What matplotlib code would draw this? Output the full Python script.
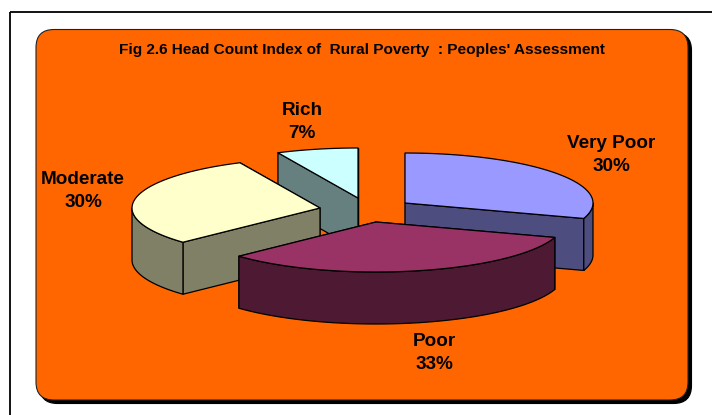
import numpy as np
import matplotlib
matplotlib.use("Agg")
import matplotlib.pyplot as plt
from matplotlib.patches import FancyBboxPatch, Polygon, Rectangle

plt.rcParams["font.family"] = ["Liberation Sans", "DejaVu Sans"]

# Survey shares
categories = ["Very Poor", "Poor", "Moderate", "Rich"]
shares = [30, 33, 30, 7]
title = "Fig 2.6 Head Count Index of  Rural Poverty  : Peoples' Assessment"

# Styling per slice: top colour, side colour, exploded apex position, label centre
top_colors = ["#9999FF", "#993366", "#FFFFCC", "#CCFFFF"]
side_colors = ["#4D4D80", "#4D1933", "#808066", "#668080"]
apexes = [(405, 203), (376, 222), (320, 208), (358, 198)]
label_centers = [(611, 155), (434.5, 353), (83, 191), (302, 122)]

RX, RY, DEPTH = 188, 50, 52
LW = 0.9

fig = plt.figure(figsize=(7.12, 4.15), dpi=100, facecolor="white")
ax = fig.add_axes([0, 0, 1, 1])
ax.set_xlim(0, 712)
ax.set_ylim(415, 0)
ax.axis("off")

# Outer frame runs past the canvas on the right and bottom
ax.add_patch(Rectangle((9.5, 12), 740, 440, fc="none", ec="black", lw=1.3, zorder=1))


def panel(x0, y0, x1, y1, fc, ec, z):
    r = 18
    ax.add_patch(FancyBboxPatch((x0 + r, y0 + r), x1 - x0 - 2 * r, y1 - y0 - 2 * r,
                                boxstyle=f"round,pad={r},rounding_size={r}",
                                fc=fc, ec=ec, lw=0.8, zorder=z))


panel(39.5, 32.5, 691.5, 403.5, "black", "black", 2)
panel(36, 29.5, 688, 400, "#FF6600", "#222222", 3)


def rim(cx, cy, a0, a1, n=60):
    """Points along the elliptical rim; angles run clockwise from twelve o'clock."""
    t = np.radians(np.linspace(a0, a1, n))
    return np.column_stack([cx + RX * np.sin(t), cy - RY * np.cos(t)])


def face(pts, color, z):
    ax.add_patch(Polygon(pts, closed=True, fc=color, ec="black", lw=LW,
                         joinstyle="round", zorder=z))


def extrude(pts):
    return np.vstack([pts, (pts + [0, DEPTH])[::-1]])


edges = np.concatenate([[0], np.cumsum(shares)]) * 360 / sum(shares)
# Back slices are painted before the ones that overlap them
paint_order = {3: 4, 0: 5, 2: 6, 1: 7}

for i, (start, stop) in enumerate(zip(edges[:-1], edges[1:])):
    cx, cy = apexes[i]
    z = paint_order[i] * 10
    apex = np.array([[cx, cy]])
    radials = [np.vstack([apex, rim(cx, cy, a, a, 1)]) for a in (start, stop)]
    radials.sort(key=lambda p: p[:, 1].mean())
    for k, seg in enumerate(radials):
        face(extrude(seg), side_colors[i], z + k)
    # Outer wall only shows on the near half of the rim
    lo, hi = max(start, 90), min(stop, 270)
    if hi > lo:
        face(extrude(rim(cx, cy, lo, hi)), side_colors[i], z + 2)
    face(np.vstack([apex, rim(cx, cy, start, stop)]), top_colors[i], z + 3)

ax.text(361.5, 50, title, ha="center", va="center", fontsize=11.1,
        fontweight="bold", color="black", zorder=100)

for name, value, (x, y) in zip(categories, shares, label_centers):
    ax.text(x, y, f"{name}\n{value}%", ha="center", va="center", fontsize=13.6,
            fontweight="bold", color="black", linespacing=1.42, zorder=100)

fig.savefig("out.png", dpi=100, facecolor="white")
